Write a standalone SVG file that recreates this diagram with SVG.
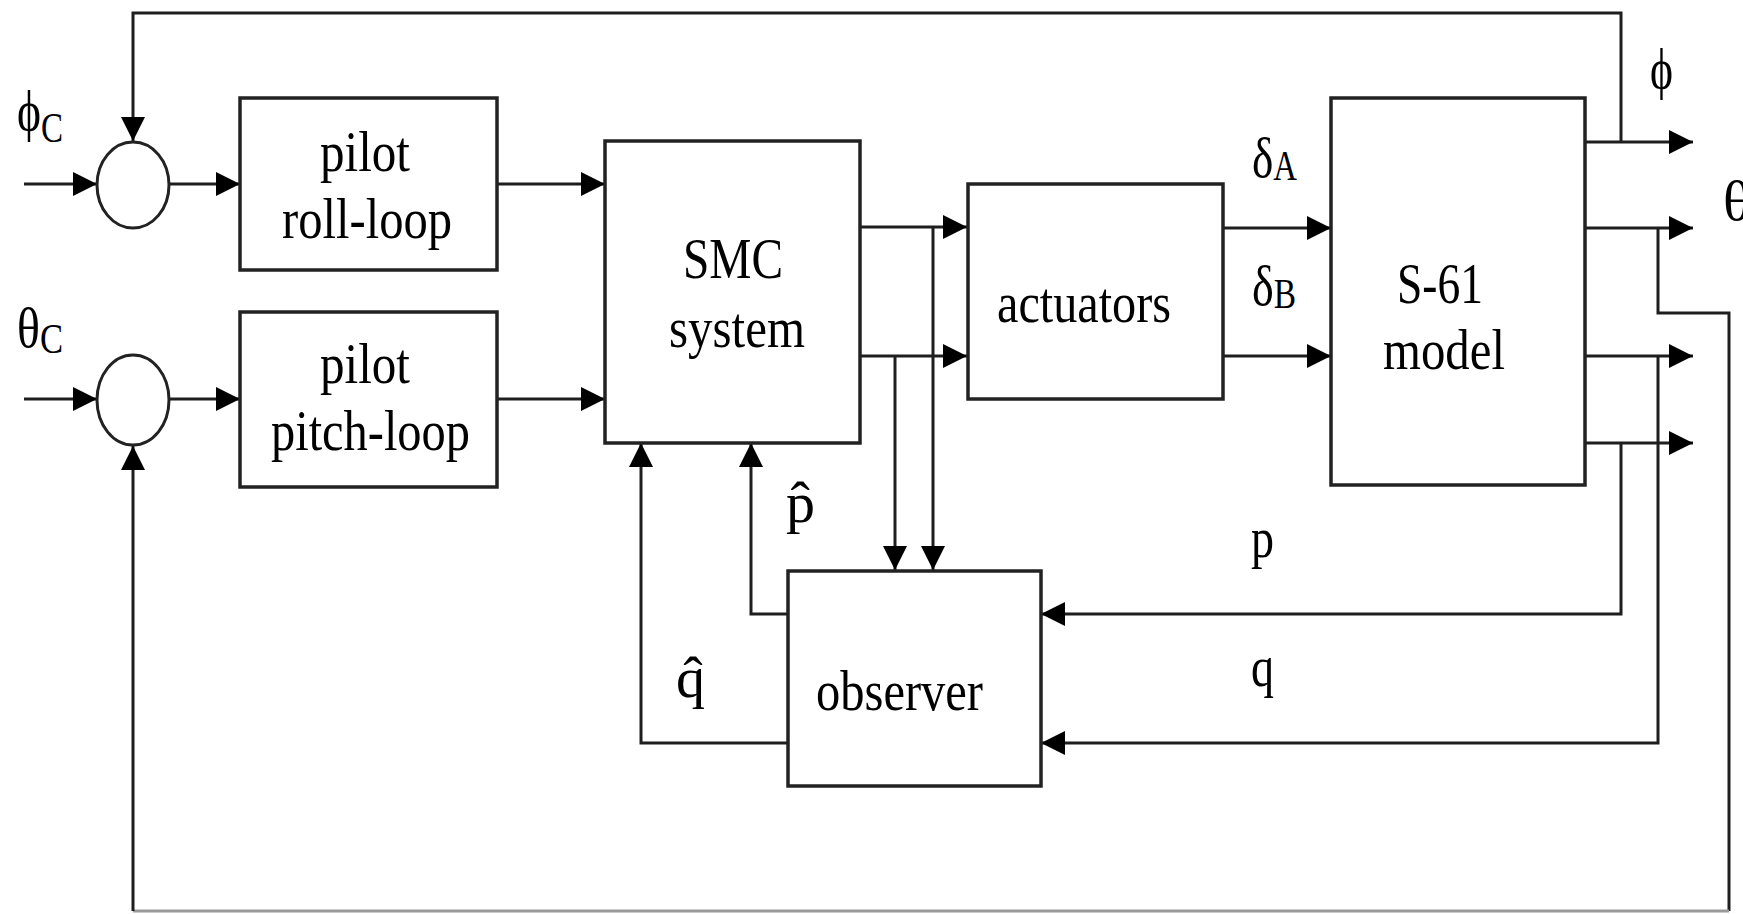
<svg xmlns="http://www.w3.org/2000/svg" width="1743" height="914" viewBox="0 0 1743 914">
  <defs>
    <marker id="arr" markerUnits="userSpaceOnUse" markerWidth="26" markerHeight="26" refX="24" refY="12" orient="auto">
      <path d="M0,0 L24,12 L0,24 z" fill="#000"/>
    </marker>
    <style>
      .box { fill: #fff; stroke: #222; stroke-width: 3.5; }
      .sum { fill: #fff; stroke: #222; stroke-width: 3; }
      .wire { fill: none; stroke: #1e1e1e; stroke-width: 3; }
      .arrow { marker-end: url(#arr); }
      .lbl { font-family: "Liberation Serif", "Times New Roman", serif; font-size: 56px; fill: #000; }
      .sym { font-family: "Liberation Serif", "DejaVu Serif", serif; font-size: 58px; fill: #000; }
      .sub { font-size: 42px; }
    </style>
  </defs>
  <rect width="1743" height="914" fill="#fff"/>

  <!-- signal lines -->
  <g id="connectors">
    <!-- roll feedback over the top -->
    <path class="wire arrow" d="M1621,142 V13 H133 V141"/>
    <path class="wire arrow" d="M24,184 H97"/>
    <path class="wire arrow" d="M170,184 H240"/>
    <path class="wire arrow" d="M497,184 H605"/>
    <path class="wire arrow" d="M24,399 H97"/>
    <path class="wire arrow" d="M170,399 H240"/>
    <path class="wire arrow" d="M497,399 H605"/>
    <!-- controller to actuators -->
    <path class="wire arrow" d="M860,227 H967"/>
    <path class="wire arrow" d="M860,356 H967"/>
    <!-- taps to observer -->
    <path class="wire arrow" d="M933,227 V570"/>
    <path class="wire arrow" d="M895,356 V570"/>
    <!-- actuators to model -->
    <path class="wire arrow" d="M1223,228 H1331"/>
    <path class="wire arrow" d="M1223,356 H1331"/>
    <!-- model outputs -->
    <path class="wire arrow" d="M1585,142 H1693"/>
    <path class="wire arrow" d="M1585,228 H1693"/>
    <path class="wire arrow" d="M1585,356 H1693"/>
    <path class="wire arrow" d="M1585,443 H1693"/>
    <!-- pitch feedback around the bottom -->
    <path class="wire" d="M1658,228 V313 H1729 V911"/>
    <path class="wire" d="M1729,911 H133" style="stroke:#9a9a9a"/>
    <path class="wire arrow" d="M133,911 V446"/>
    <!-- measured rates to observer -->
    <path class="wire arrow" d="M1621,443 V614 H1041"/>
    <path class="wire arrow" d="M1658,356 V743 H1041"/>
    <!-- estimates back to controller -->
    <path class="wire arrow" d="M788,614 H751 V443"/>
    <path class="wire arrow" d="M788,743 H641 V443"/>
  </g>

  <g id="sum-roll">
    <ellipse class="sum" cx="133" cy="185" rx="36" ry="43"/>
  </g>
  <g id="sum-pitch">
    <ellipse class="sum" cx="133" cy="400" rx="36" ry="45"/>
  </g>

  <g id="pilot-roll">
    <rect class="box" x="240" y="98" width="257" height="172"/>
    <text class="lbl" x="320" y="171" textLength="90" lengthAdjust="spacingAndGlyphs">pilot</text>
    <text class="lbl" x="282" y="238" textLength="170" lengthAdjust="spacingAndGlyphs">roll-loop</text>
  </g>
  <g id="pilot-pitch">
    <rect class="box" x="240" y="312" width="257" height="175"/>
    <text class="lbl" x="320" y="383" textLength="90" lengthAdjust="spacingAndGlyphs">pilot</text>
    <text class="lbl" x="271" y="450" textLength="199" lengthAdjust="spacingAndGlyphs">pitch-loop</text>
  </g>
  <g id="smc">
    <rect class="box" x="605" y="141" width="255" height="302"/>
    <text class="lbl" x="683" y="278" textLength="100" lengthAdjust="spacingAndGlyphs">SMC</text>
    <text class="lbl" x="669" y="347" textLength="136" lengthAdjust="spacingAndGlyphs">system</text>
  </g>
  <g id="actuators">
    <rect class="box" x="968" y="184" width="255" height="215"/>
    <text class="lbl" x="997" y="322" textLength="174" lengthAdjust="spacingAndGlyphs">actuators</text>
  </g>
  <g id="s61">
    <rect class="box" x="1331" y="98" width="254" height="387"/>
    <text class="lbl" x="1397" y="303" textLength="86" lengthAdjust="spacingAndGlyphs">S-61</text>
    <text class="lbl" x="1383" y="369" textLength="122" lengthAdjust="spacingAndGlyphs">model</text>
  </g>
  <g id="observer">
    <rect class="box" x="788" y="571" width="253" height="215"/>
    <text class="lbl" x="816" y="710" textLength="167" lengthAdjust="spacingAndGlyphs">observer</text>
  </g>

  <!-- signal labels -->
  <g id="labels">
    <text class="sym" x="17" y="130" textLength="46" lengthAdjust="spacingAndGlyphs">ϕ<tspan class="sub" dy="12">C</tspan></text>
    <text class="sym" x="17" y="347" textLength="46" lengthAdjust="spacingAndGlyphs">θ<tspan class="sub" dy="6">C</tspan></text>
    <text class="sym" x="1650" y="88" textLength="23" lengthAdjust="spacingAndGlyphs">ϕ</text>
    <text class="sym" x="1723" y="220">θ</text>
    <text class="sym" x="1252" y="177" textLength="45" lengthAdjust="spacingAndGlyphs">δ<tspan class="sub" dy="3">A</tspan></text>
    <text class="sym" x="1252" y="305" textLength="44" lengthAdjust="spacingAndGlyphs">δ<tspan class="sub" dy="3">B</tspan></text>
    <text class="sym" x="1251" y="557" textLength="23" lengthAdjust="spacingAndGlyphs">p</text>
    <text class="sym" x="1251" y="686" textLength="23" lengthAdjust="spacingAndGlyphs">q</text>
    <text class="sym" x="786" y="522">p̂</text>
    <text class="sym" x="676" y="697">q̂</text>
  </g>
</svg>
